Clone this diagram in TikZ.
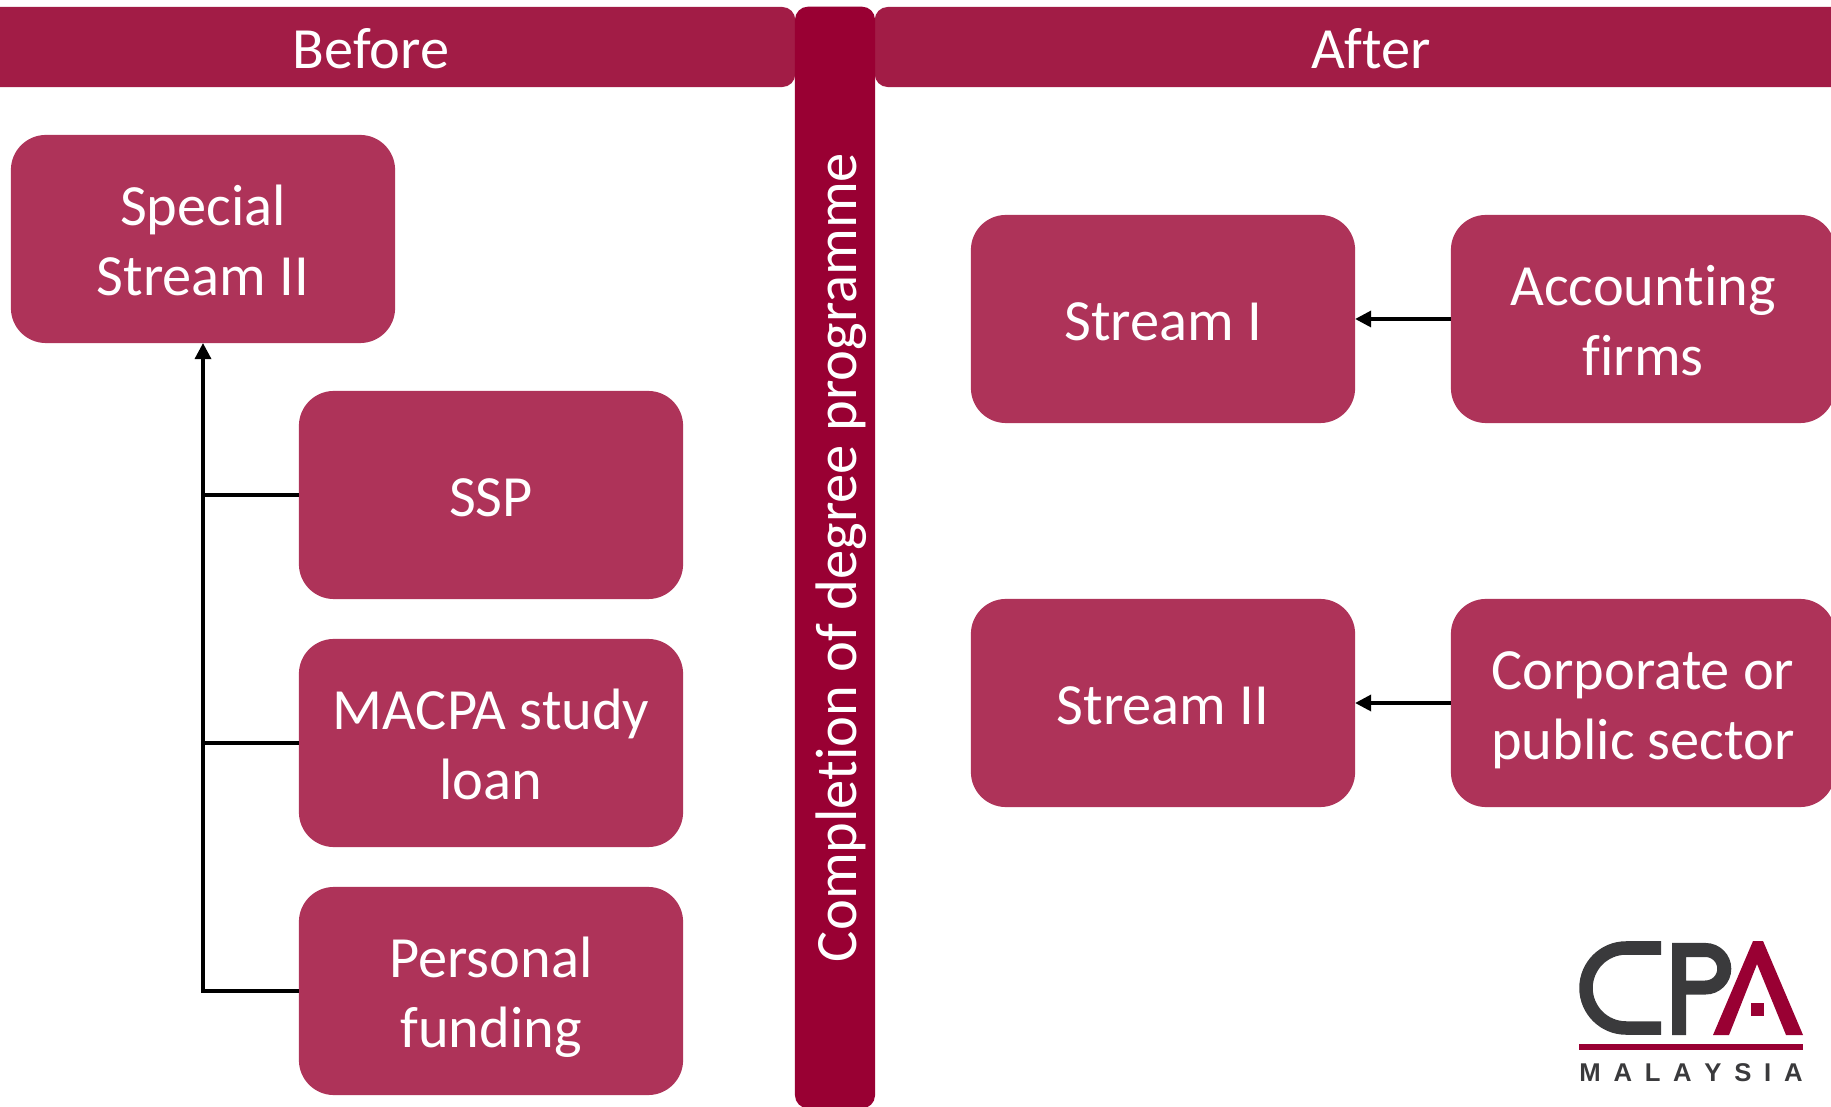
\documentclass[tikz,border=0pt]{standalone}
\usepackage{fontspec}
\setmainfont{Carlito}[Ligatures=NoCommon]
\newfontfamily\logofont{Liberation Sans}
\usetikzlibrary{arrows.meta}
\definecolor{headred}{HTML}{A21C46}
\definecolor{midred}{HTML}{990033}
\definecolor{boxred}{HTML}{AE3359}
\definecolor{logodark}{HTML}{3A3A3C}
\tikzset{
  lines/.style={execute at begin node={\rule{0pt}{16pt}}, execute at end node={\rule[-4pt]{0pt}{4pt}}},
  twolines/.style={execute at begin node={\rule{0pt}{40pt}}, execute at end node={\rule[-8pt]{0pt}{8pt}}},
  headbar/.style={lines, fill=headred, text=white, inner sep=0pt, outer sep=0pt, rounded corners=0.13cm, minimum height=0.80cm, font=\fontsize{16.6}{20}\selectfont},
  midbar/.style={lines, fill=midred, text=white, inner sep=0pt, outer sep=0pt, rounded corners=0.13cm, minimum height=0.80cm, minimum width=11.01cm, rotate=90, font=\fontsize{16.65}{20}\selectfont},
  box/.style={lines, fill=boxred, text=white, inner sep=0pt, outer sep=0pt, rounded corners=0.35cm, minimum width=3.84cm, minimum height=2.08cm, align=center, font=\fontsize{16.6}{19.9}\selectfont},
  wire/.style={draw=black, line width=0.95pt},
  arr/.style={wire, -{Triangle[length=0.16cm,width=0.16cm]}},
}
\begin{document}
\begin{tikzpicture}[x=0.01cm,y=-0.01cm]
  \useasboundingbox (0,0) rectangle (1831,1107);
  \clip (0,0) rectangle (1831,1107);
  % header bars
  \node[headbar, minimum width=8.48cm] (before) at (371,47) {Before};
  \node[headbar, minimum width=9.92cm] (after) at (1371,47) {After};
  \node[midbar] (done) at (835,557.5) {Completion of degree programme\hspace{0.08cm}};
  % before side
  \node[box, twolines] (special) at (203,239) {Special\\Stream II};
  \node[box] (ssp) at (491,495) {SSP};
  \node[box, twolines] (macpa) at (491,743) {MACPA study\\loan};
  \node[box, twolines] (personal) at (491,991) {Personal\\funding};
  \draw[arr] (personal.west) -| (special.south);
  \draw[wire] (ssp.west) -- (ssp.west -| special.south);
  \draw[wire] (macpa.west) -- (macpa.west -| special.south);
  % after side
  \node[box] (streamone) at (1163,319) {Stream I};
  \node[box, twolines] (firms) at (1643,319) {Accounting\\firms};
  \node[box] (streamtwo) at (1163,703) {Stream II};
  \node[box, twolines] (sector) at (1643,703) {Corporate or\\public sector};
  \draw[arr] (firms.west) -- (streamone.east);
  \draw[arr] (sector.west) -- (streamtwo.east);
  % logo
  \draw[logodark, line width=0.135cm] (1661,948) -- (1626,948) arc (-90:-270:40) -- (1661,1028);
  \draw[logodark, line width=0.14cm] (1679,1035) -- (1679,950) -- (1705.5,950) arc (-90:90:18.75) -- (1679,987.5);
  \fill[midred] (1713,1035) -- (1753,941) -- (1763,941) -- (1803,1035) -- (1786,1035) -- (1757,964) -- (1729,1035) -- cycle;
  \fill[midred] (1751,1003) rectangle (1764,1016);
  \fill[midred] (1579,1044) rectangle (1803,1050);
  \node[inner sep=0pt, text=logodark, font=\logofont\bfseries\fontsize{7.3}{9}\selectfont] (malaysia) at (1691,1073) {\makebox[2.23cm][s]{M\hfil A\hfil L\hfil A\hfil Y\hfil S\hfil I\hfil A}};
\end{tikzpicture}
\end{document}
